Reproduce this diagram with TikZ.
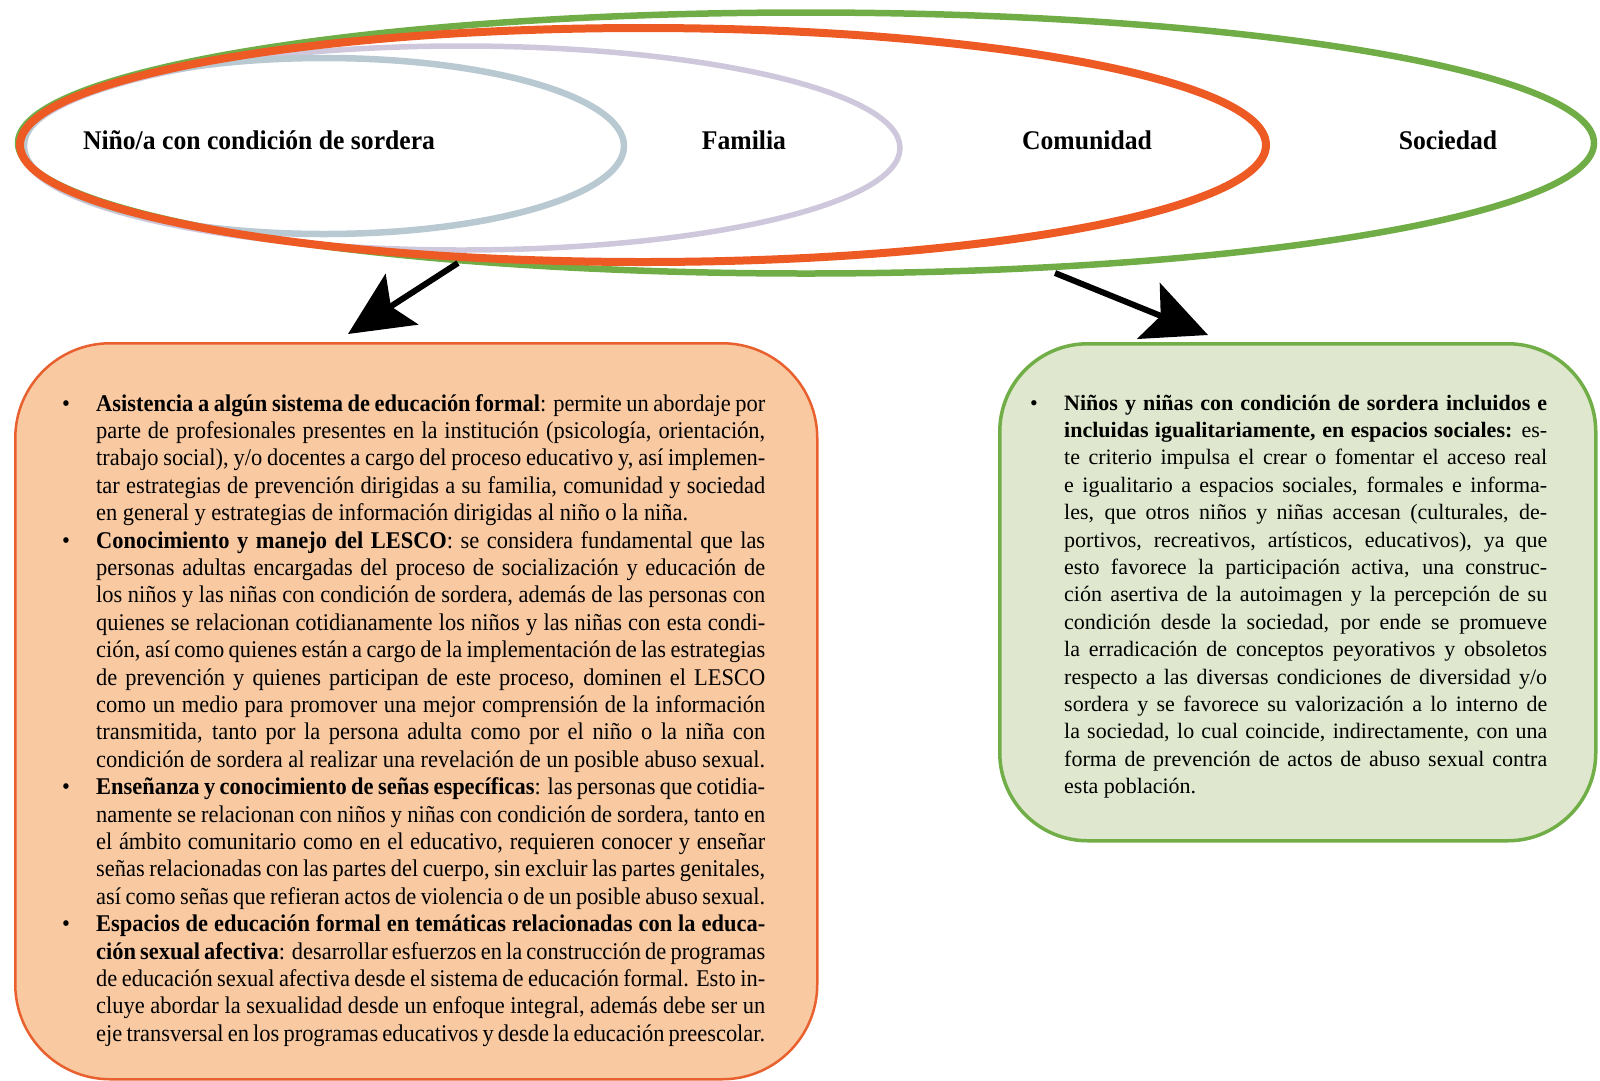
\documentclass[tikz,border=0pt]{standalone}
\usepackage{fontspec}
\setmainfont{Liberation Serif}
\newfontfamily\condfont{Liberation Serif}[FakeStretch=0.935]
\newfontfamily\labfont{Liberation Serif}[FakeStretch=0.95]
\usetikzlibrary{shapes.geometric,arrows.meta}

\definecolor{ringgreen}{HTML}{70AD47}
\definecolor{ringred}{HTML}{EE5A24}
\definecolor{ringlav}{HTML}{CFC8DC}
\definecolor{ringgray}{HTML}{B9C9D2}
\definecolor{peachfill}{HTML}{F9C9A2}
\definecolor{peachline}{HTML}{E9602F}
\definecolor{sagefill}{HTML}{DFE8CE}
\definecolor{sageline}{HTML}{72AE48}

% one justified line of a paragraph
\newcommand{\jline}[1]{\makebox[\linewidth][s]{#1}\\}
% last (ragged) line of a paragraph
\newcommand{\rline}[1]{#1\\}
\newcommand{\bul}{\llap{\makebox[34pt][l]{\textbullet}}}

\tikzset{
  ring/.style={ellipse, draw, inner sep=0pt},
  ringlabel/.style={font=\labfont\fontsize{27}{30}\selectfont\bfseries, inner sep=0pt},
  infobox/.style={rectangle, rounded corners=95pt, anchor=north west, inner sep=0pt},
  bigarrow/.style={line width=6pt, -{Stealth[length=64pt,width=60pt,inset=13pt]}},
}

\begin{document}
\begin{tikzpicture}[x=1pt,y=-1pt]
\useasboundingbox (0,0) rectangle (1600,1080);

% nested circles of context
\node[ring, ringgreen, line width=6.5pt, minimum width=1576pt, minimum height=261pt] (soc) at (806,143) {};
\node[ring, ringlav, line width=5.5pt, minimum width=878pt, minimum height=204pt] (fam) at (461,148) {};
\node[ring, ringgray, line width=6.5pt, minimum width=600pt, minimum height=176pt] (nin) at (324,146) {};
\node[ring, ringred, line width=8pt, minimum width=1246pt, minimum height=234pt] (com) at (643,145) {};

\node[ringlabel] (lnin) at (259,140) {Niño/a con condición de sordera};
\node[ringlabel] (lfam) at (744,140) {Familia};
\node[ringlabel] (lcom) at (1087,140) {Comunidad};
\node[ringlabel] (lsoc) at (1448,140) {Sociedad};

% the two outcome boxes
\node[infobox, draw=peachline, fill=peachfill, line width=2.5pt,
      minimum width=802pt, minimum height=736pt] (lbox) at (14,342) {};
\node[infobox, draw=sageline, fill=sagefill, line width=3.5pt, rounded corners=88pt,
      minimum width=596pt, minimum height=497pt] (rbox) at (998,342) {};

% arrows
\coordinate (la0) at (458,263);
\coordinate (la1) at (348,334);
\coordinate (ra0) at (1055,273);
\coordinate (ra1) at (1208,335);
\draw[bigarrow] (la0) -- (la1);
\draw[bigarrow] (ra0) -- (ra1);

% left box text
\node[anchor=base west, inner sep=0pt] (ltext) at (96,411) {%
\begin{minipage}[t]{669pt}\condfont\fontsize{24}{27.4}\selectfont
\jline{\bul\textbf{Asistencia a algún sistema de educación formal}: permite un abordaje por}
\jline{parte de profesionales presentes en la institución (psicología, orientación,}
\jline{trabajo social), y/o docentes a cargo del proceso educativo y, así implemen-}
\jline{tar estrategias de prevención dirigidas a su familia, comunidad y sociedad}
\rline{en general y estrategias de información dirigidas al niño o la niña.}
\jline{\bul\textbf{Conocimiento y manejo del LESCO}: se considera fundamental que las}
\jline{personas adultas encargadas del proceso de socialización y educación de}
\jline{los niños y las niñas con condición de sordera, además de las personas con}
\jline{quienes se relacionan cotidianamente los niños y las niñas con esta condi-}
\jline{ción, así como quienes están a cargo de la implementación de las estrategias}
\jline{de prevención y quienes participan de este proceso, dominen el LESCO}
\jline{como un medio para promover una mejor comprensión de la información}
\jline{transmitida, tanto por la persona adulta como por el niño o la niña con}
\jline{condición de sordera al realizar una revelación de un posible abuso sexual.}
\jline{\bul\textbf{Enseñanza y conocimiento de señas específicas}: las personas que cotidia-}
\jline{namente se relacionan con niños y niñas con condición de sordera, tanto en}
\jline{el ámbito comunitario como en el educativo, requieren conocer y enseñar}
\jline{señas relacionadas con las partes del cuerpo, sin excluir las partes genitales,}
\jline{así como señas que refieran actos de violencia o de un posible abuso sexual.}
\jline{\bul\textbf{Espacios de educación formal en temáticas relacionadas con la educa-}}
\jline{\textbf{ción sexual afectiva}: desarrollar esfuerzos en la construcción de programas}
\jline{de educación sexual afectiva desde el sistema de educación formal. Esto in-}
\jline{cluye abordar la sexualidad desde un enfoque integral, además debe ser un}
\makebox[\linewidth][s]{eje transversal en los programas educativos y desde la educación preescolar.}
\end{minipage}};

% right box text
\node[anchor=base west, inner sep=0pt] (rtext) at (1064,410) {%
\begin{minipage}[t]{483pt}\fontsize{22}{27.4}\selectfont
\jline{\bul\textbf{Niños y niñas con condición de sordera incluidos e}}
\jline{\textbf{incluidas igualitariamente, en espacios sociales:} es-}
\jline{te criterio impulsa el crear o fomentar el acceso real}
\jline{e igualitario a espacios sociales, formales e informa-}
\jline{les, que otros niños y niñas accesan (culturales, de-}
\jline{portivos, recreativos, artísticos, educativos), ya que}
\jline{esto favorece la participación activa, una construc-}
\jline{ción asertiva de la autoimagen y la percepción de su}
\jline{condición desde la sociedad, por ende se promueve}
\jline{la erradicación de conceptos peyorativos y obsoletos}
\jline{respecto a las diversas condiciones de diversidad y/o}
\jline{sordera y se favorece su valorización a lo interno de}
\jline{la sociedad, lo cual coincide, indirectamente, con una}
\jline{forma de prevención de actos de abuso sexual contra}
esta población.
\end{minipage}};
\end{tikzpicture}
\end{document}
